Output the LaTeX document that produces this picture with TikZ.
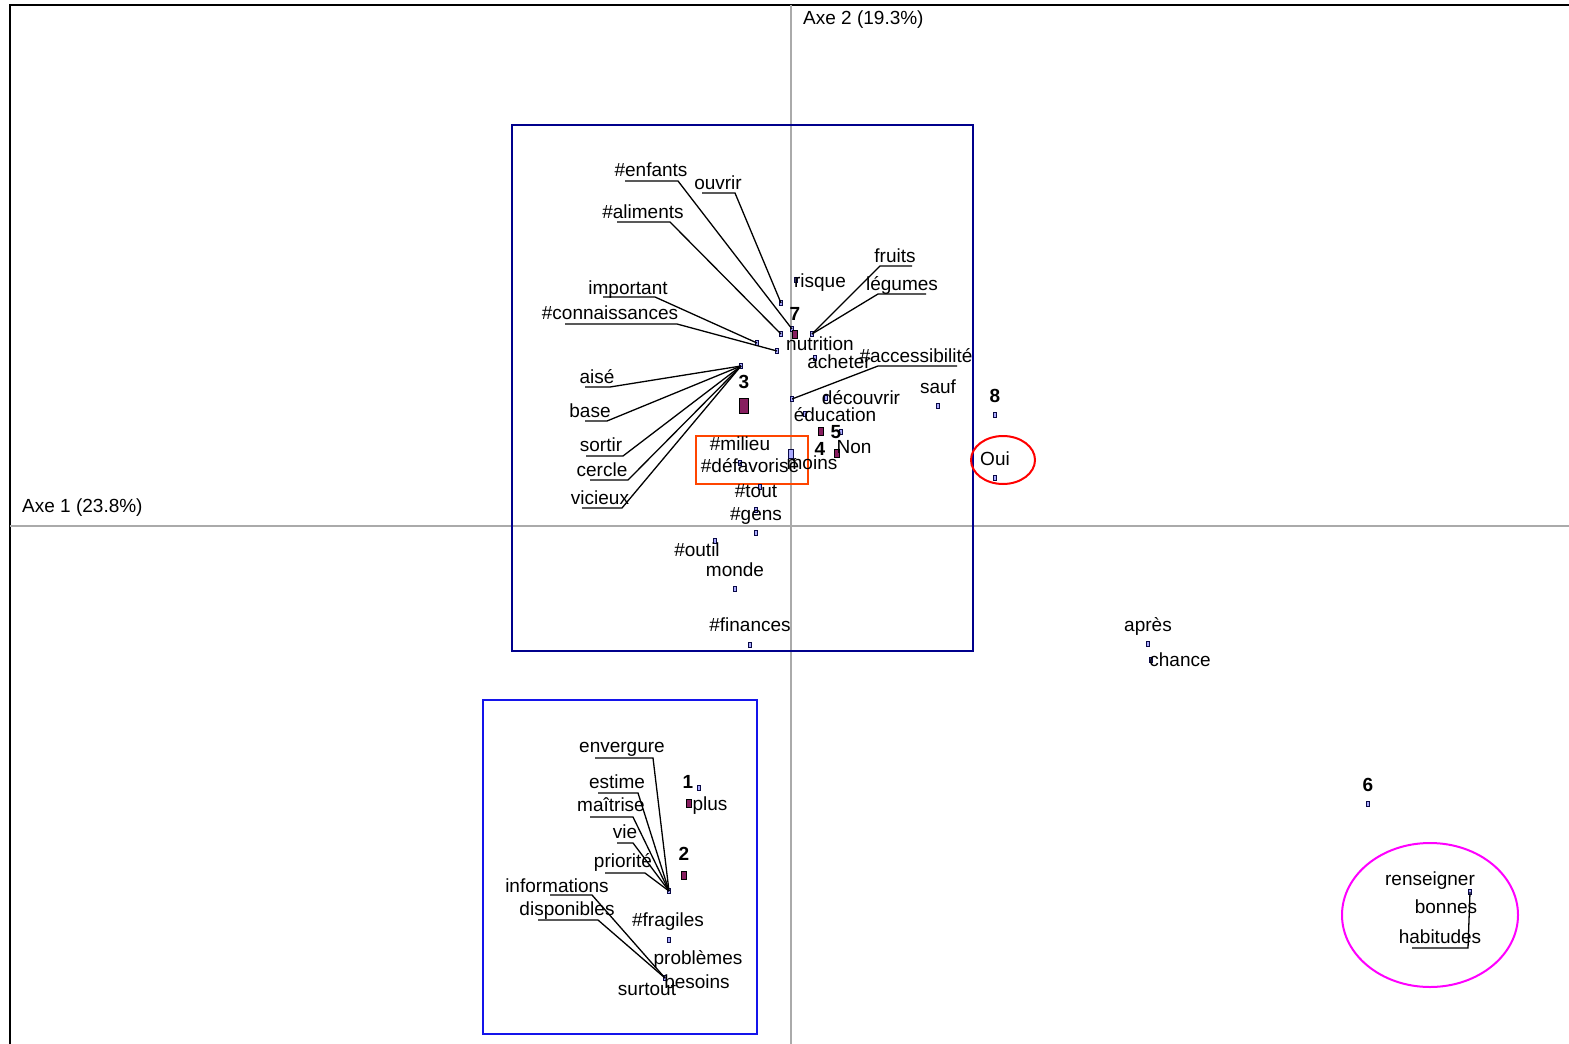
\documentclass[tikz,border=0pt]{standalone}
\usepackage{fontspec}
\setmainfont{Liberation Sans}
\definecolor{axisgray}{RGB}{170,170,170}
\definecolor{navybox}{RGB}{0,0,140}
\definecolor{ptline}{RGB}{10,10,70}
\definecolor{bluebox}{RGB}{20,20,235}
\definecolor{orangered}{RGB}{255,69,0}
\definecolor{plum}{RGB}{135,30,95}
\definecolor{ptfill}{RGB}{170,170,255}
\definecolor{pinkring}{RGB}{255,0,255}
\tikzset{
  lbl/.style={anchor=base,inner sep=0pt,yshift=-1.5pt,font=\fontsize{19}{22}\selectfont},
  num/.style={lbl,font=\fontsize{19}{22}\selectfont\bfseries},
  pt/.style={draw=ptline,fill=ptfill,line width=0.9pt,minimum width=3pt,minimum height=5pt,inner sep=0pt},
  pm/.style={draw=black,fill=plum,line width=0.8pt,minimum width=5pt,minimum height=8pt,inner sep=0pt},
  lead/.style={black,line width=1.3pt},
  axis/.style={axisgray,line width=1.2pt},
}
\begin{document}
\begin{tikzpicture}[x=1pt,y=-1pt]
\useasboundingbox (0,0) rectangle (1569,1044);
\fill[white] (0,0) rectangle (1569,1044);

% frame
\draw[black,line width=2.2pt] (10,1044) -- (10,5) -- (1569,5);

% factor axes
\draw[axis] (791,5) -- (791,1044);
\draw[axis] (10,526) -- (1569,526);
\node[lbl,anchor=base west] (axe2) at (803,23) {Axe 2 (19.3\%)};
\node[lbl,anchor=base west] (axe1) at (22,511) {Axe 1 (23.8\%)};

% cluster frames
\draw[navybox,line width=2pt] (512,125) rectangle (973,651);
\draw[bluebox,line width=2pt] (483,700) rectangle (757,1034);
\draw[orangered,line width=2pt] (696,436) rectangle (808,484);
\draw[red,line width=2pt] (1003,460) ellipse [x radius=32,y radius=24];
\draw[pinkring,line width=2pt] (1430,915) ellipse [x radius=88,y radius=72];

% ---------- points ----------
\node[pt] (menf) at (792,329) {};
\node[pt] (mouv) at (781,303) {};
\node[pt] (mali) at (781,334) {};
\node[pt] (mimp) at (757,343) {};
\node[pt] (mcon) at (777,351) {};
\node[pt] (mris) at (796,280) {};
\node[pt] (mfru) at (812,334) {};
\node[pt] (mach) at (815,358) {};
\node[pt] (macc) at (792,399) {};
\node[pt] (mdec) at (826,398) {};
\node[pt] (msau) at (938,406) {};
\node[pt] (medu) at (805,414) {};
\node[pt] (mtrois) at (741,366) {};
\node[pt] (mmil) at (740,463) {};
\node[pt] (mnon) at (841,432) {};
\node[pt] (mtou) at (760,487) {};
\node[pt] (mgen) at (756,510) {};
\node[pt] (mgenb) at (756,533) {};
\node[pt] (mout) at (715,541) {};
\node[pt] (mmon) at (735,589) {};
\node[pt] (mfin) at (750,645) {};
\node[pt] (mhuit) at (995,415) {};
\node[pt] (moui) at (995,478) {};
\node[pt] (mapr) at (1148,644) {};
\node[pt] (mcha) at (1151,660) {};
\node[pt] (msix) at (1368,804) {};
\node[pt] (mren) at (1470,892) {};
\node[pt] (menv) at (669,891) {};
\node[pt] (msur) at (665,978) {};
\node[pt] (mun) at (699,788) {};
\node[pt] (mfra) at (669,940) {};

% class points
\node[pm] (psept) at (795,334) {};
\node[pm,minimum width=9pt,minimum height=15pt] (ptrois) at (744,406) {};
\node[pm] (pcinq) at (821,431) {};
\node[pm] (pquatre) at (837,453) {};
\node[pm] (pplus) at (689,803) {};
\node[pm] (pdeux) at (684,875) {};
\node[pt,minimum width=5pt,minimum height=9pt] (pdef) at (791,454) {};

% ---------- labels, upper cluster ----------
\node[lbl] (enfants) at (651,175) {\#enfants};
\node[lbl] (ouvrir) at (718,188) {ouvrir};
\node[lbl] (aliments) at (643,217) {\#aliments};
\node[lbl] (important) at (628,293) {important};
\node[lbl] (connais) at (610,318) {\#connaissances};
\node[lbl] (risque) at (820,286) {risque};
\node[num] (sept) at (795,319) {7};
\node[lbl] (fruits) at (895,261) {fruits};
\node[lbl] (legumes) at (902,289) {légumes};
\node[lbl] (nutrition) at (820,349) {nutrition};
\node[lbl] (acheter) at (839,367) {acheter};
\node[lbl] (access) at (916,361) {\#accessibilité};
\node[lbl] (decouvrir) at (861,403) {découvrir};
\node[lbl] (sauf) at (938,392) {sauf};
\node[lbl] (education) at (835,420) {éducation};
\node[num] (trois) at (744,387) {3};
\node[lbl] (aise) at (597,382) {aisé};
\node[lbl] (base) at (590,416) {base};
\node[lbl] (sortir) at (601,450) {sortir};
\node[lbl] (cercle) at (602,475) {cercle};
\node[lbl] (vicieux) at (600,503) {vicieux};
\node[lbl] (milieu) at (740,449) {\#milieu};
\node[lbl] (defav) at (750,471) {\#défavorisé};
\node[lbl] (moins) at (812,468) {moins};
\node[num] (quatre) at (820,454) {4};
\node[num] (cinq) at (836,437) {5};
\node[lbl] (non) at (854,452) {Non};
\node[lbl] (tout) at (756,496) {\#tout};
\node[lbl] (gens) at (756,519) {\#gens};
\node[lbl] (outil) at (697,555) {\#outil};
\node[lbl] (monde) at (735,575) {monde};
\node[lbl] (finances) at (750,630) {\#finances};

% ---------- labels, right side ----------
\node[num] (huit) at (995,401) {8};
\node[lbl] (oui) at (995,464) {Oui};
\node[lbl] (apres) at (1148,630) {après};
\node[lbl] (chance) at (1180,665) {chance};
\node[num] (six) at (1368,790) {6};
\node[lbl] (renseigner) at (1430,884) {renseigner};
\node[lbl] (bonnes) at (1446,912) {bonnes};
\node[lbl] (habitudes) at (1440,942) {habitudes};

% ---------- labels, lower cluster ----------
\node[lbl] (envergure) at (622,751) {envergure};
\node[lbl] (estime) at (617,787) {estime};
\node[lbl] (maitrise) at (611,810) {maîtrise};
\node[lbl] (vie) at (625,837) {vie};
\node[lbl] (priorite) at (623,866) {priorité};
\node[lbl] (informations) at (557,891) {informations};
\node[lbl] (disponibles) at (567,914) {disponibles};
\node[num] (un) at (688,787) {1};
\node[lbl] (plus) at (710,809) {plus};
\node[num] (deux) at (684,859) {2};
\node[lbl] (fragiles) at (668,925) {\#fragiles};
\node[lbl] (problemes) at (698,963) {problèmes};
\node[lbl] (besoins) at (697,987) {besoins};
\node[lbl] (surtout) at (647,994) {surtout};

% ---------- leader lines (underline, then run to the point) ----------
\coordinate (uenfA) at (625,181); \coordinate (uenfB) at (678,181);
\coordinate (uouvA) at (702,193); \coordinate (uouvB) at (735,193);
\coordinate (ualiA) at (617,222); \coordinate (ualiB) at (670,222);
\coordinate (uimpA) at (603,297); \coordinate (uimpB) at (655,297);
\coordinate (uconA) at (565,324); \coordinate (uconB) at (677,324);
\coordinate (ufruA) at (912,266); \coordinate (ufruB) at (880,266);
\coordinate (ulegA) at (926,294); \coordinate (ulegB) at (878,294);
\coordinate (uaccA) at (957,366); \coordinate (uaccB) at (878,366);
\coordinate (uaisA) at (585,387); \coordinate (uaisB) at (610,387);
\coordinate (ubasA) at (585,421); \coordinate (ubasB) at (607,421);
\coordinate (usorA) at (586,456); \coordinate (usorB) at (623,456);
\coordinate (ucerA) at (590,480); \coordinate (ucerB) at (628,480);
\coordinate (uvicA) at (582,508); \coordinate (uvicB) at (622,508);
\coordinate (uenvA) at (595,758); \coordinate (uenvB) at (653,758);
\coordinate (uestA) at (598,793); \coordinate (uestB) at (638,793);
\coordinate (umaiA) at (590,817); \coordinate (umaiB) at (633,817);
\coordinate (uvieA) at (617,843); \coordinate (uvieB) at (633,843);
\coordinate (upriA) at (605,873); \coordinate (upriB) at (645,873);
\coordinate (uinfA) at (550,895); \coordinate (uinfB) at (592,895);
\coordinate (udisA) at (538,920); \coordinate (udisB) at (598,920);
\coordinate (uhabA) at (1412,948); \coordinate (uhabB) at (1468,948);

\draw[lead] (uenfA) -- (uenfB) -- (menf.center);
\draw[lead] (uouvA) -- (uouvB) -- (mouv.center);
\draw[lead] (ualiA) -- (ualiB) -- (mali.center);
\draw[lead] (uimpA) -- (uimpB) -- (mimp.center);
\draw[lead] (uconA) -- (uconB) -- (mcon.center);
\draw[lead] (ufruA) -- (ufruB) -- (mfru.center);
\draw[lead] (ulegA) -- (ulegB) -- (mfru.center);
\draw[lead] (uaccA) -- (uaccB) -- (macc.center);
\draw[lead] (uaisA) -- (uaisB) -- (mtrois.center);
\draw[lead] (ubasA) -- (ubasB) -- (mtrois.center);
\draw[lead] (usorA) -- (usorB) -- (mtrois.center);
\draw[lead] (ucerA) -- (ucerB) -- (mtrois.center);
\draw[lead] (uvicA) -- (uvicB) -- (mtrois.center);
\draw[lead] (uenvA) -- (uenvB) -- (menv.center);
\draw[lead] (uestA) -- (uestB) -- (menv.center);
\draw[lead] (umaiA) -- (umaiB) -- (menv.center);
\draw[lead] (uvieA) -- (uvieB) -- (menv.center);
\draw[lead] (upriA) -- (upriB) -- (menv.center);
\draw[lead] (uinfA) -- (uinfB) -- (msur.center);
\draw[lead] (udisA) -- (udisB) -- (msur.center);
\draw[lead] (uhabA) -- (uhabB) -- (mren.center);
\end{tikzpicture}
\end{document}
